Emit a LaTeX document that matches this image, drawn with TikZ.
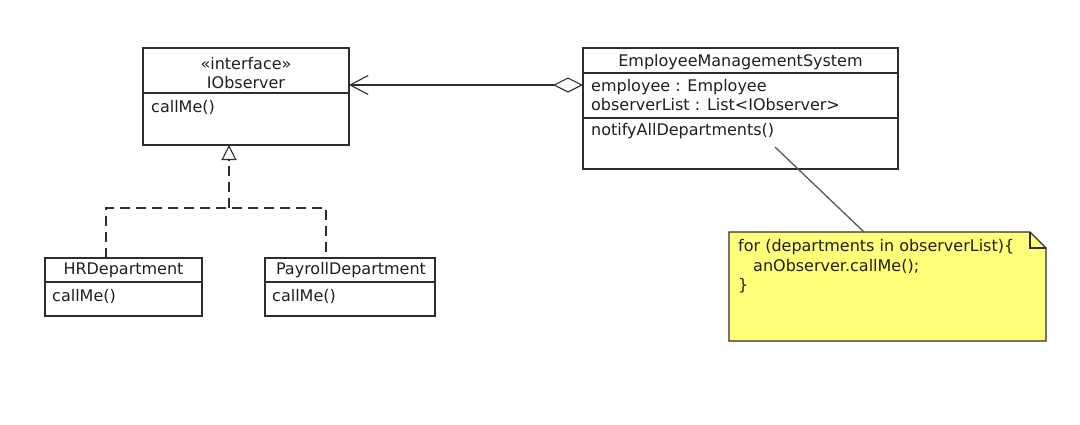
\documentclass[tikz,border=0pt]{standalone}
\usepackage{fontspec}
\setmainfont{DejaVu Sans}
\usetikzlibrary{arrows.meta,calc}
\definecolor{notefill}{RGB}{255,255,122}
\definecolor{umlline}{RGB}{45,45,45}
\tikzset{
  umlbox/.style={draw=umlline, line width=1.1pt, inner sep=0pt, outer sep=0pt},
  member/.style={anchor=west, inner sep=0pt},
  realize/.style={draw=umlline, line width=1.1pt, dash pattern=on 10pt off 6pt}
}

\begin{document}
\begin{tikzpicture}[x=1pt, y=-1pt, font=\fontsize{16}{19}\selectfont, text=black!88]
\useasboundingbox (0,0) rectangle (1080,424);
\node [umlbox, minimum width=206pt, minimum height=97pt] (iobs) at (246,96.5) {};
\draw [umlline, line width=1.1pt] (143,93) -- (349,93);
\node at (246,64) {«interface»};
\node at (246,83) {IObserver};
\node [member] at (151,107) {callMe()};

\node [umlbox, minimum width=315pt, minimum height=121pt] (ems) at (740.5,108.5) {};
\draw [umlline, line width=1.1pt] (583,73) -- (898,73);
\draw [umlline, line width=1.1pt] (583,118) -- (898,118);
\node at (740.5,62) {EmployeeManagementSystem};
\node [member] at (591,87) {employee : Employee};
\node [member] at (591,105) {observerList : List<IObserver>};
\node [member] at (591,131) {notifyAllDepartments()};

\node [umlbox, minimum width=157pt, minimum height=58pt] (hr) at (123.5,287) {};
\draw [umlline, line width=1.1pt] (45,282) -- (202,282);
\node at (123.5,270) {HRDepartment};
\node [member] at (52,296) {callMe()};

\node [umlbox, minimum width=170pt, minimum height=58pt] (pay) at (350,287) {};
\draw [umlline, line width=1.1pt] (265,282) -- (435,282);
\node at (351,270) {PayrollDepartment};
\node [member] at (272,296) {callMe()};

\node [inner sep=0pt, outer sep=0pt, minimum width=317pt, minimum height=109pt] (note) at (887.5,286.5) {};
\draw [umlline, line width=1.1pt, fill=notefill] (note.north west) -- ([xshift=-16pt]note.north east)
  -- ([yshift=-16pt]note.north east) -- (note.south east) -- (note.south west) -- cycle;
\draw [umlline, line width=1.1pt] ([xshift=-16pt]note.north east) |- ([yshift=-16pt]note.north east);
\node [member] at (738,247) {for (departments in observerList)\{};
\node [member] at (753,266) {anObserver.callMe();};
\node [member] at (738,286) {\}};

\draw [umlline, line width=1.1pt, {Diamond[open, length=30pt, width=15pt]}-{Straight Barb[length=18pt, width=19pt]}]
  ($(ems.north west)+(0,37)$) -- ($(iobs.north east)+(0,37)$);

\coordinate (join) at ($(iobs.south west)+(86,63)$);
\draw [realize] ($(hr.north west)+(61,0)$) |- (join) -| ($(pay.north west)+(61,0)$);
\draw [realize, -{Triangle[open, length=15pt, width=15pt, fill=white]}] (join) -- ($(iobs.south west)+(86,0)$);

\coordinate (notifyend) at (775,147);
\coordinate (notetop) at ($(note.north west)+(135,0)$);
\draw [black!65, line width=1.3pt] (notifyend) -- (notetop);
\end{tikzpicture}
\end{document}
